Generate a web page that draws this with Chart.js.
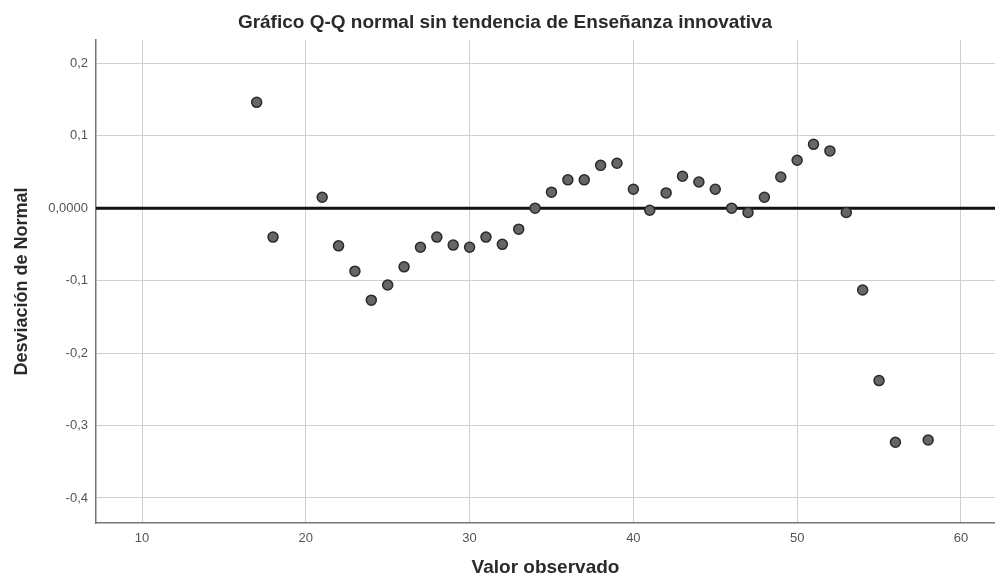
<!DOCTYPE html>
<html>
<head>
<meta charset="utf-8">
<script src="https://cdn.jsdelivr.net/npm/chart.js@4.4.1/dist/chart.umd.min.js"></script>
<style>
html,body{margin:0;padding:0;background:#fff;}
#wrap{width:995px;height:583px;position:relative;}
</style>
</head>
<body>
<div id="wrap"><canvas id="c" width="995" height="583"></canvas></div>
<script>
const titleText = "Gráfico Q-Q normal sin tendencia de Enseñanza innovativa";
const xTitle = "Valor observado";
const yTitle = "Desviación de Normal";
const observed = [17,18,21,22,23,24,25,26,27,28,29,30,31,32,33,34,35,36,37,38,39,40,41,42,43,44,45,46,47,48,49,50,51,52,53,54,55,56,58];
const deviation = [0.146,-0.040,0.015,-0.052,-0.087,-0.127,-0.106,-0.081,-0.054,-0.040,-0.051,-0.054,-0.040,-0.050,-0.029,0.000,0.022,0.039,0.039,0.059,0.062,0.026,-0.003,0.021,0.044,0.036,0.026,0.000,-0.006,0.015,0.043,0.066,0.088,0.079,-0.006,-0.113,-0.238,-0.323,-0.320];
const xTicks = [10,20,30,40,50,60];
const yTicks = [0.2,0.1,0,-0.1,-0.2,-0.3,-0.4];
const xRange = [7.19,62.08];
const yRange = [-0.4345,0.232];

const fontFam = "'Liberation Sans', Arial, sans-serif";

const titlePlugin = {
  id:'customTitle',
  afterDraw(chart){
    const ctx = chart.ctx;
    ctx.save();
    ctx.font = "bold 19px " + fontFam;
    ctx.fillStyle = '#2a2a2a';
    ctx.textAlign = 'center';
    ctx.textBaseline = 'middle';
    ctx.fillText(titleText, 505, 23);
    ctx.restore();
  }
};

new Chart(document.getElementById('c'), {
  data: {
    datasets: [
      {
        type: 'line',
        data: [{x:xRange[0], y:0},{x:xRange[1], y:0}],
        borderColor: '#111',
        borderWidth: 3,
        pointRadius: 0,
        order: 2
      },
      {
        type: 'scatter',
        data: observed.map((v,i)=>({x:v, y:deviation[i]})),
        backgroundColor: '#666',
        borderColor: '#2a2a2a',
        borderWidth: 1.5,
        pointRadius: 5,
        order: 1
      }
    ]
  },
  plugins: [titlePlugin],
  options: {
    responsive: false,
    animation: false,
    layout: { autoPadding: false, padding: { top: 40, left: 0, right: 0, bottom: 0 } },
    plugins: { legend: {display:false}, tooltip: {enabled:false}, title:{display:false} },
    scales: {
      x: {
        type: 'linear',
        min: xRange[0], max: xRange[1],
        afterBuildTicks(s){ s.ticks = xTicks.map(v=>({value:v})); },
        afterFit(s){ s.height = 60; s.paddingRight = 0; s.paddingLeft = 0; },
        grid: { color: '#cfcfcf', lineWidth: 1, drawTicks: false },
        border: { color: '#777', width: 1.5 },
        ticks: { color: '#555', font: {family: fontFam, size: 13}, padding: 8, callback: v => String(v) },
        title: { display: true, text: xTitle, color: '#2a2a2a', font: {family: fontFam, size: 19, weight: 'bold'}, padding: {top: 0, bottom: 4} }
      },
      y: {
        type: 'linear',
        min: yRange[0], max: yRange[1],
        afterBuildTicks(s){ s.ticks = yTicks.map(v=>({value:v})); },
        afterFit(s){ s.width = 96; },
        grid: { color: '#cfcfcf', lineWidth: 1, drawTicks: false },
        border: { color: '#777', width: 1.5 },
        ticks: { color: '#555', font: {family: fontFam, size: 13}, padding: 8,
          callback: v => v === 0 ? '0,0000' : v.toFixed(1).replace('.', ',') },
        title: { display: true, text: yTitle, color: '#2a2a2a', font: {family: fontFam, size: 18, weight: 'bold'}, padding: {top: 11, bottom: 0} }
      }
    }
  }
});
</script>
</body>
</html>
